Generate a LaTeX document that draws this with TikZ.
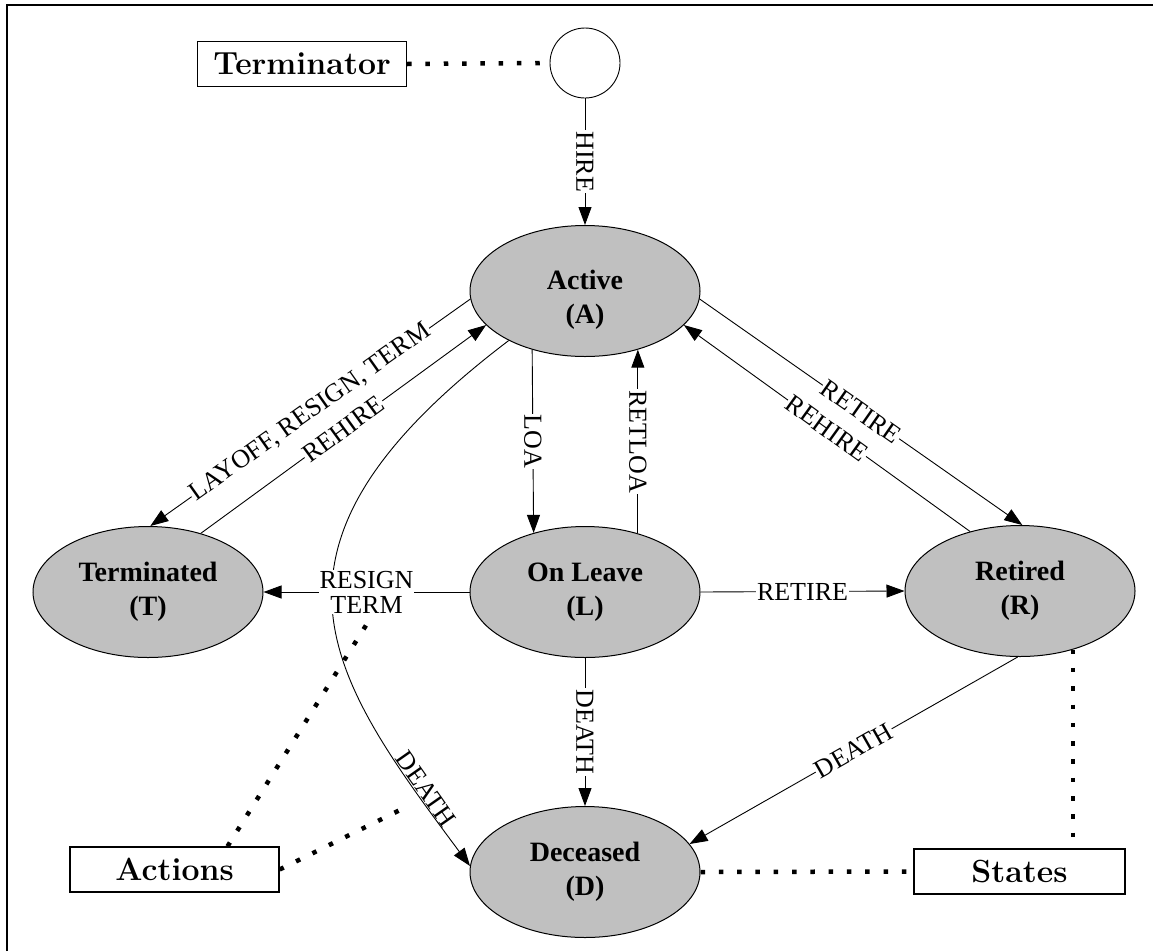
\documentclass[tikz,border=0pt]{standalone}
\usepackage{fontspec}
\newfontfamily\timesfont{Liberation Serif}
\usetikzlibrary{shapes.geometric,arrows.meta}
\definecolor{stategray}{HTML}{C0C0C0}
\begin{document}
\begin{tikzpicture}[x=1pt,y=-1pt,
  state/.style={ellipse, draw, line width=1pt, fill=stategray, minimum width=230pt, minimum height=131pt,
    inner sep=0pt, align=center, font=\timesfont\bfseries\fontsize{28}{34}\selectfont},
  keybox/.style={draw, line width=1.3pt, minimum width=209pt, minimum height=45pt, inner sep=0pt,
    font=\bfseries\fontsize{32}{36}\selectfont},
  lab/.style={font=\timesfont\fontsize{26}{25}\selectfont, fill=white, inner sep=1pt, align=center},
  labplain/.style={font=\timesfont\fontsize{26}{25}\selectfont, inner sep=1pt},
  arr/.style={-{Triangle[length=18pt,width=13pt]}, line width=0.9pt},
  dots/.style={line width=4.5pt, dash pattern=on 4.5pt off 13.8pt}
]
\useasboundingbox (0,0) rectangle (1153,951);
\draw[line width=2pt] (7,951) -- (7,5) -- (1153,5);

% nodes
\node[keybox] (term) at (302,64) {Terminator};
\node[circle, draw, line width=0.9pt, minimum size=70pt, inner sep=0pt] (start) at (585,63) {};
\node[state, text height=70pt] (A) at (585,291) {Active\\(A)};
\node[state] (T) at (148,592) {Terminated\\(T)};
\node[state] (L) at (585,592) {On Leave\\(L)};
\node[state] (R) at (1020,591) {Retired\\(R)};
\node[state] (D) at (585,872) {Deceased\\(D)};
\node[keybox] (act) at (174.5,869.5) {Actions};
\node[keybox, minimum width=211pt] (sts) at (1019.5,871.5) {States};

% transitions
\draw[arr] (start) -- node[lab, rotate=-90] {HIRE} (A);
\draw[arr] (A.184.5) -- node[lab, sloped] {LAYOFF, RESIGN, TERM} (T.88);
\draw[arr] (T.48) -- node[lab, sloped] {REHIRE} (A.199.8);
\draw[arr] (A.228.6) -- node[lab, rotate=-90] {LOA} (L.131.4);
\draw[arr] (L.48.6) -- node[lab, rotate=-90] {RETLOA} (A.-48.6);
\draw[arr] (A.-4.5) -- node[lab, sloped] {RETIRE} (R.88);
\draw[arr] (R.130.4) -- node[lab, sloped] {REHIRE} (A.-19.3);
\draw[arr] (A.213) .. controls (235,548) and (328,675) .. node[labplain, pos=0.87, sloped, above] (dl) {DEATH} (D.177);
\draw[arr] (L.east) -- node[lab] {RETIRE} (R.west);
\draw[arr] (L.west) -- node[lab] (rt) {RESIGN\\TERM} (T.east);
\draw[arr] (L.south) -- node[lab, rotate=-90] {DEATH} (D.north);
\draw[arr] (R.268) -- node[lab, sloped] {DEATH} (D.15.7);

% legend links
\coordinate (aend) at (400,810);
\draw[dots] (term.east) -- (start.west);
\draw[dots] (D.east) -- (sts.west);
\draw[dots] (R.-48.3) -- (R.-48.3 |- sts.north);
\draw[dots] ([xshift=53pt]act.north) -- ([yshift=-10pt]rt.south);
\draw[dots] (act.east) -- (aend);
\end{tikzpicture}
\end{document}
